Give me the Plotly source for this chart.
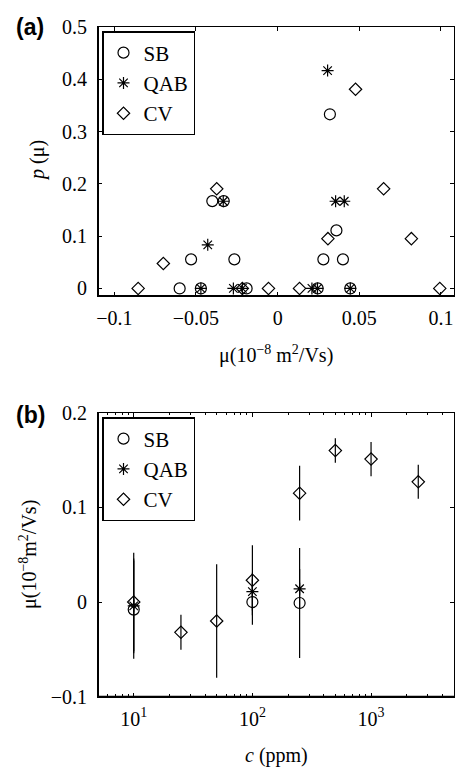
import plotly.graph_objects as go

# ---------------- data: panel (a) ----------------
mu_SB = [0.032, -0.040, -0.033, 0.036, -0.053, -0.0265, 0.028, 0.040, -0.060, -0.047, -0.019, 0.0245, 0.0445]
p_SB = [0.333, 0.167, 0.167, 0.111, 0.0556, 0.0556, 0.0556, 0.0556, 0, 0, 0, 0, 0]

mu_QAB = [0.0306, -0.0333, 0.0355, 0.0408, -0.0428, -0.047, -0.0271, -0.0216, 0.021, 0.0244, 0.0445]
p_QAB = [0.4167, 0.1667, 0.1667, 0.1667, 0.0833, 0, 0, 0, 0, 0, 0]

mu_CV = [0.0477, -0.0373, 0.0649, 0.0308, 0.0819, -0.070, -0.0854, -0.0216, -0.0056, 0.0134, 0.0993]
p_CV = [0.381, 0.1905, 0.1905, 0.0952, 0.0952, 0.0476, 0, 0, 0, 0, 0]

# ---------------- data: panel (b) ----------------
c_SB = [10, 100, 250]
mub_SB = [-0.008, 0.0, -0.001]
err_SB = [0.052, 0.024, 0.058]

c_QAB = [10, 100, 250]
mub_QAB = [-0.004, 0.011, 0.014]
err_QAB = [0.05, 0.02, 0.021]

c_CV = [10, 25, 50, 100, 250, 500, 1000, 2500]
mub_CV = [0.0, -0.032, -0.020, 0.023, 0.115, 0.160, 0.151, 0.127]
err_CV = [0.052, 0.0185, 0.06, 0.037, 0.029, 0.013, 0.018, 0.018]

# tick labels
xa_tickvals = [-0.1, -0.05, 0, 0.05, 0.1]
xa_ticktext = ["\u22120.1", "\u22120.05", "0", "0.05", "0.1"]
ya_tickvals = [0, 0.1, 0.2, 0.3, 0.4, 0.5]
ya_ticktext = ["0", "0.1", "0.2", "0.3", "0.4", "0.5"]
xb_tickvals = [10, 100, 1000]
xb_ticktext = ["10<sup>1</sup>", "10<sup>2</sup>", "10<sup>3</sup>"]
xb_minor = [6, 7, 8, 9, 20, 30, 40, 50, 60, 70, 80, 90, 200, 300, 400, 500, 600, 700, 800, 900,
            2000, 3000, 4000, 5000]
yb_tickvals = [-0.1, 0, 0.1, 0.2]
yb_ticktext = ["\u22120.1", "0", "0.1", "0.2"]

W, H = 455, 767
SERIF = "Liberation Serif"
FS = 20

def px_x(p):
    return p / W

def px_y(p):
    return 1 - p / H

fig = go.Figure()

sym = {"SB": "circle-open", "QAB": "asterisk-open", "CV": "diamond-open"}
size = {"SB": 11, "QAB": 10, "CV": 9.5}

# panel (a)
for name, xs, ys in [("SB", mu_SB, p_SB), ("QAB", mu_QAB, p_QAB), ("CV", mu_CV, p_CV)]:
    fig.add_trace(go.Scatter(
        x=xs, y=ys, mode="markers", name=name, legend="legend",
        marker=dict(symbol=sym[name], size=size[name], color="black",
                    line=dict(color="black", width=1.2)),
        xaxis="x", yaxis="y", showlegend=True))

# panel (b)
for name, xs, ys, es in [("SB", c_SB, mub_SB, err_SB), ("QAB", c_QAB, mub_QAB, err_QAB),
                         ("CV", c_CV, mub_CV, err_CV)]:
    fig.add_trace(go.Scatter(
        x=xs, y=ys, mode="markers", name=name, legend="legend2",
        error_y=dict(type="data", array=es, color="black", thickness=1.2, width=0),
        marker=dict(symbol=sym[name], size=size[name], color="black",
                    line=dict(color="black", width=1.2)),
        xaxis="x2", yaxis="y2", showlegend=True))

axis_common = dict(showline=True, linecolor="black", linewidth=1, mirror="allticks",
                   ticks="inside", ticklen=4, tickcolor="black", tickwidth=1,
                   showgrid=False, zeroline=False, automargin=False,
                   tickfont=dict(family=SERIF, size=FS, color="black"))

fig.update_layout(
    template="none",
    width=W, height=H,
    margin=dict(l=0, r=0, t=0, b=0, autoexpand=False),
    paper_bgcolor="white", plot_bgcolor="white",
    font=dict(family=SERIF, size=FS, color="black"),
    xaxis=dict(domain=[px_x(98), px_x(454)], range=[-0.11, 0.108], anchor="y",
               tickmode="array", tickvals=xa_tickvals, ticktext=xa_ticktext,
               ticklabelstandoff=4, **axis_common),
    yaxis=dict(domain=[px_y(296), px_y(27)], range=[-0.0145, 0.5], anchor="x",
               tickmode="array", tickvals=ya_tickvals, ticktext=ya_ticktext,
               ticklabelstandoff=6, **axis_common),
    xaxis2=dict(domain=[px_x(98), px_x(454)], type="log", range=[0.699, 3.699], anchor="y2",
                tickmode="array", tickvals=xb_tickvals, ticktext=xb_ticktext,
                minor=dict(ticks="inside", ticklen=2.5, tickcolor="black", tickwidth=1,
                           tickmode="array", tickvals=xb_minor, showgrid=False),
                ticklabelstandoff=4, **axis_common),
    yaxis2=dict(domain=[px_y(696.7), px_y(412.7)], range=[-0.1, 0.2], anchor="x2",
                tickmode="array", tickvals=yb_tickvals, ticktext=yb_ticktext,
                ticklabelstandoff=6, **axis_common),
    legend=dict(x=px_x(102), y=px_y(31), xanchor="left", yanchor="top",
                bgcolor="white", bordercolor="black", borderwidth=1.5,
                font=dict(family=SERIF, size=21, color="black"), tracegroupgap=0),
    legend2=dict(x=px_x(102), y=px_y(417), xanchor="left", yanchor="top",
                 bgcolor="white", bordercolor="black", borderwidth=1.5,
                 font=dict(family=SERIF, size=21, color="black"), tracegroupgap=0),
    showlegend=True,
)

# thicker left/bottom axis lines (styling)
for xr, yr in [("x domain", "y domain"), ("x2 domain", "y2 domain")]:
    fig.add_shape(type="line", xref=xr, yref=yr, x0=0, x1=0, y0=0, y1=1,
                  line=dict(color="black", width=2))
    fig.add_shape(type="line", xref=xr, yref=yr, x0=0, x1=1, y0=0, y1=0,
                  line=dict(color="black", width=2))

annos = [
    dict(text="<b>(a)</b>", x=px_x(30), y=px_y(27), font=dict(family="Liberation Sans", size=23)),
    dict(text="<b>(b)</b>", x=px_x(30), y=px_y(415), font=dict(family="Liberation Sans", size=23)),
    dict(text="\u03bc(10<sup>\u22128</sup> m<sup>2</sup>/Vs)", x=px_x(276), y=px_y(354),
         font=dict(family=SERIF, size=FS)),
    dict(text="<i>p</i> (\u03bc)", x=px_x(38), y=px_y(161), textangle=-90,
         font=dict(family=SERIF, size=FS)),
    dict(text="\u03bc(10<sup>\u22128</sup>m<sup>2</sup>/Vs)", x=px_x(28), y=px_y(555), textangle=-90,
         font=dict(family=SERIF, size=FS)),
    dict(text="<i>c</i> (ppm)", x=px_x(276), y=px_y(755), font=dict(family=SERIF, size=FS)),
]
for a in annos:
    fig.add_annotation(xref="paper", yref="paper", showarrow=False,
                       xanchor="center", yanchor="middle", **a)

fig.write_html("out.html")
